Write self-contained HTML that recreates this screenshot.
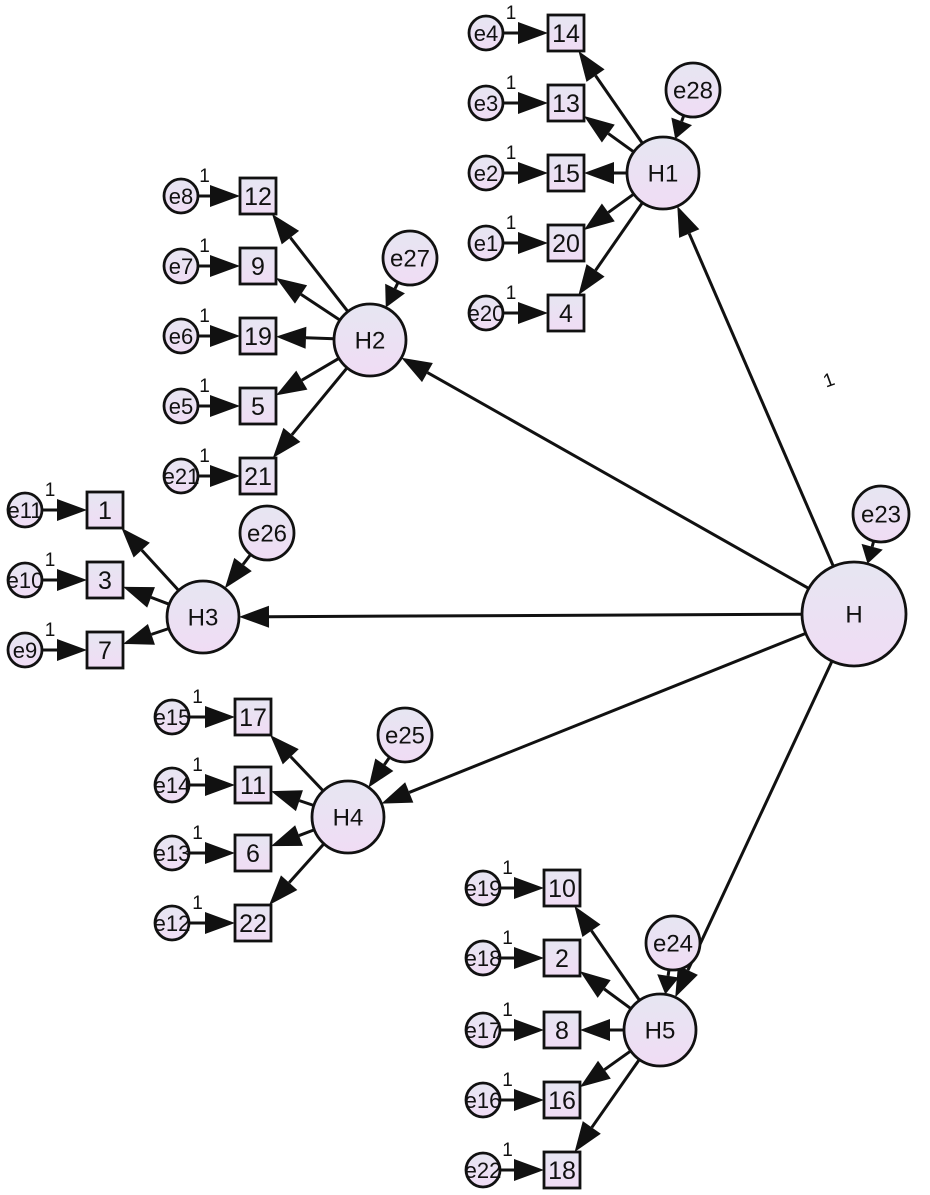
<!DOCTYPE html>
<html><head><meta charset="utf-8">
<style>
html,body{margin:0;padding:0;background:#fff;}
svg{display:block;}
text{font-family:"Liberation Sans",Arial,sans-serif;fill:#111;}
</style></head>
<body>
<svg id="s" width="930" height="1195" viewBox="0 0 930 1195" xmlns="http://www.w3.org/2000/svg">
<defs>
<linearGradient id="g" x1="0" y1="0" x2="0" y2="1">
<stop offset="0" stop-color="#e6e6f2"/><stop offset="1" stop-color="#f0dcf4"/>
</linearGradient>
</defs>
<g id="L"></g><g id="N"></g>
</svg>
<script>
var NS="http://www.w3.org/2000/svg";
var Lg=document.getElementById("L"),Ng=document.getElementById("N");
function el(p,t,a,txt){var e=document.createElementNS(NS,t);for(var k in a)e.setAttribute(k,a[k]);if(txt!==undefined)e.textContent=txt;p.appendChild(e);return e;}
var nodes={};
function circ(id,x,y,r,label,fs){nodes[id]={t:'c',x:x,y:y,r:r};
 el(Ng,'circle',{cx:x,cy:y,r:r,fill:'url(#g)',stroke:'#111','stroke-width':2.8});
 el(Ng,'text',{x:x,y:y+fs*0.36,'font-size':fs,'text-anchor':'middle'},label);}
function box(id,x,y,label){var h=18;nodes[id]={t:'b',x:x,y:y,h:h};
 el(Ng,'rect',{x:x-h,y:y-h,width:2*h,height:2*h,fill:'url(#g)',stroke:'#111','stroke-width':2.8});
 el(Ng,'text',{x:x,y:y+9,'font-size':25,'text-anchor':'middle'},label);}
function edge(n,dx,dy){
 if(n.t=='c')return n.r;
 var tx=Math.abs(dx)>1e-6?n.h/Math.abs(dx):1e9,ty=Math.abs(dy)>1e-6?n.h/Math.abs(dy):1e9;return Math.min(tx,ty);}
function arrow(a,b){var A=nodes[a],B=nodes[b];var dx=B.x-A.x,dy=B.y-A.y,d=Math.hypot(dx,dy);dx/=d;dy/=d;
 var s=edge(A,dx,dy),e=edge(B,dx,dy);
 var x1=A.x+dx*s,y1=A.y+dy*s,x2=B.x-dx*e,y2=B.y-dy*e;
 var L=Math.min(30,(d-s-e)*0.75),W=11;var bx=x2-dx*L,by=y2-dy*L;
 el(Lg,'line',{x1:x1,y1:y1,x2:bx,y2:by,stroke:'#111','stroke-width':3});
 el(Lg,'polygon',{points:x2+','+y2+' '+(bx-dy*W)+','+(by+dx*W)+' '+(bx+dy*W)+','+(by-dx*W),fill:'#111'});}
function one(x,y,fs,rot){var a={x:x,y:y,'font-size':fs||19,'text-anchor':'middle'};if(rot)a.transform='rotate('+rot+' '+x+' '+y+')';el(Ng,'text',a,'1');}

var groups=[
 ['H1',663,173,566,[33,103,173,243,313],['14','13','15','20','4'],486,['e4','e3','e2','e1','e20'],['e28',693,90]],
 ['H2',370,340,258,[196,266,336,406,476],['12','9','19','5','21'],181,['e8','e7','e6','e5','e21'],['e27',410,258]],
 ['H3',203,617,105,[510,580,650],['1','3','7'],25,['e11','e10','e9'],['e26',267,533]],
 ['H4',348,817,253,[717,785,853,923],['17','11','6','22'],172,['e15','e14','e13','e12'],['e25',405,735]],
 ['H5',660,1030,562,[888,958,1030,1100,1170],['10','2','8','16','18'],483,['e19','e18','e17','e16','e22'],['e24',673,943]]
];
circ('H',854,614,52,'H',24);
circ('e23',881,514,28,'e23',24);
arrow('e23','H');
groups.forEach(function(g){
 circ(g[0],g[1],g[2],36,g[0],24);
 circ(g[8][0],g[8][1],g[8][2],27,g[8][0],24);
 arrow(g[8][0],g[0]);
 arrow('H',g[0]);
 for(var i=0;i<g[4].length;i++){
  var bid='b'+g[0]+i;box(bid,g[3],g[4][i],g[5][i]);
  var eid=g[7][i];circ(eid,g[6],g[4][i],17,eid,22);
  arrow(eid,bid);arrow(g[0],bid);
  one((g[6]+g[3]-18)/2-6,g[4][i]-14);
 }
});
one(831,386,19,-20);
</script>
</body></html>
